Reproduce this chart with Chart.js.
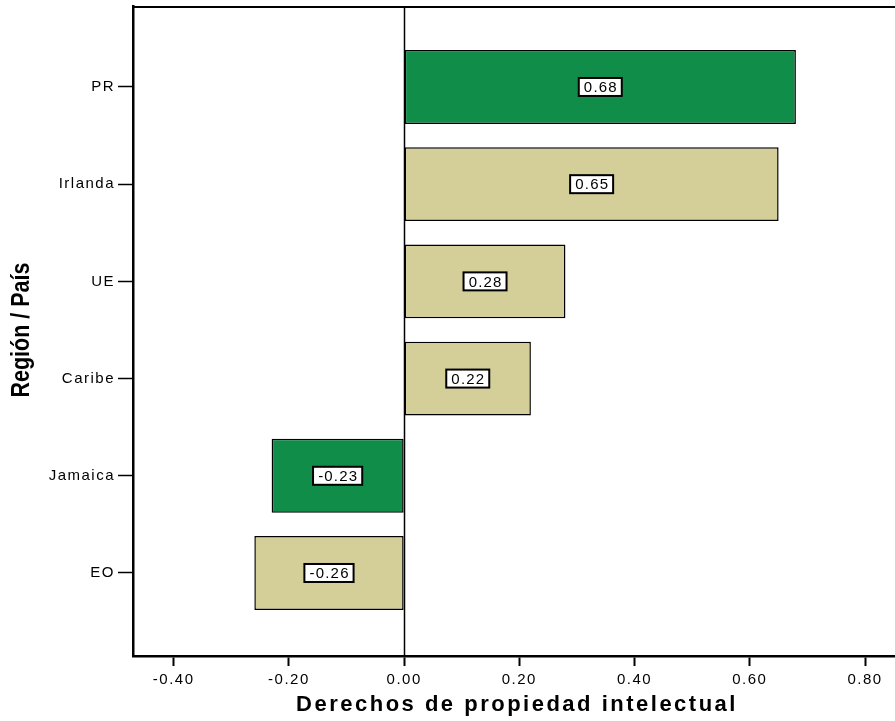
<!DOCTYPE html>
<html>
<head>
<meta charset="utf-8">
<script src="https://cdn.jsdelivr.net/npm/chart.js@4/dist/chart.umd.min.js"></script>
<style>
html,body{margin:0;padding:0;background:#fff;overflow:hidden;}
#wrap{width:895px;height:721px;position:relative;}
</style>
</head>
<body>
<div id="wrap"><canvas id="c" width="895" height="721"></canvas></div>
<script>
const categories = ["PR", "Irlanda", "UE", "Caribe", "Jamaica", "EO"];
const values = [0.68, 0.65, 0.28, 0.22, -0.23, -0.26];
const labels = ["0.68", "0.65", "0.28", "0.22", "-0.23", "-0.26"];
const highlighted = [true, false, false, false, true, false];
const xTicks = [-0.40, -0.20, 0.00, 0.20, 0.40, 0.60, 0.80];
const xTitle = "Derechos de propiedad intelectual";
const yTitle = "Región / País";

const GREEN = "#118D4A";
const TAN = "#D4CF98";

const data = values.map((v, i) => ({ x: v, y: i }));

const spacingPlugin = {
  id: "spacing",
  beforeInit(chart) { chart.ctx.letterSpacing = "1.5px"; },
  beforeDraw(chart) { chart.ctx.letterSpacing = "1.5px"; }
};

const decoPlugin = {
  id: "deco",
  beforeDatasetsDraw(chart) {
    const { ctx, chartArea, scales } = chart;
    const x0 = scales.x.getPixelForValue(0);
    ctx.save();
    ctx.strokeStyle = "#000";
    ctx.lineWidth = 1.5;
    ctx.beginPath();
    ctx.moveTo(Math.round(x0) + 0.5, chartArea.top);
    ctx.lineTo(Math.round(x0) + 0.5, chartArea.bottom);
    ctx.stroke();
    ctx.lineWidth = 2;
    ctx.beginPath();
    ctx.moveTo(chartArea.left, chartArea.top + 1);
    ctx.lineTo(chartArea.right, chartArea.top + 1);
    ctx.stroke();
    ctx.restore();
  },
  afterDatasetsDraw(chart) {
    const { ctx } = chart;
    const meta = chart.getDatasetMeta(0);
    ctx.save();
    ctx.letterSpacing = "1.2px";
    ctx.font = "15px 'Liberation Sans', Arial, sans-serif";
    ctx.textAlign = "center";
    ctx.textBaseline = "middle";
    meta.data.forEach((bar, i) => {
      const cx = (bar.x + bar.base) / 2;
      const cy = bar.y;
      const t = labels[i];
      const w = ctx.measureText(t).width + 9;
      const h = 18;
      ctx.fillStyle = "#fff";
      ctx.fillRect(cx - w / 2, cy - h / 2, w, h);
      ctx.strokeStyle = "#000";
      ctx.lineWidth = 2;
      ctx.strokeRect(cx - w / 2, cy - h / 2, w, h);
      ctx.fillStyle = "#000";
      ctx.fillText(t, cx + 0.6, cy + 1);
    });
    ctx.restore();
  },
  afterDraw(chart) {
    const { ctx } = chart;
    ctx.save();
    ctx.fillStyle = "#000";
    ctx.textAlign = "center";
    ctx.textBaseline = "middle";
    ctx.letterSpacing = "2.5px";
    ctx.font = "bold 22px 'Liberation Sans', Arial, sans-serif";
    ctx.fillText(xTitle, 517, 705);
    ctx.letterSpacing = "0px";
    ctx.translate(22, 330);
    ctx.rotate(-Math.PI / 2);
    ctx.scale(0.86, 1);
    ctx.font = "bold 25px 'Liberation Sans', Arial, sans-serif";
    ctx.fillText(yTitle, 0, 0);
    ctx.restore();
  }
};

new Chart(document.getElementById("c"), {
  type: "bar",
  data: {
    datasets: [{
      data: data,
      backgroundColor: highlighted.map(h => h ? GREEN : TAN),
      borderColor: "#000",
      borderWidth: 1.5,
      borderSkipped: false,
      barPercentage: 0.76,
      categoryPercentage: 1
    }]
  },
  options: {
    indexAxis: "y",
    responsive: false,
    animation: false,
    layout: { padding: { top: 6, left: 0, right: 0, bottom: 0 } },
    plugins: { legend: { display: false }, tooltip: { enabled: false } },
    scales: {
      x: {
        type: "linear",
        min: -0.4706,
        max: 0.852,
        afterBuildTicks(scale) { scale.ticks = xTicks.map(v => ({ value: v })); },
        afterFit(scale) { scale.height = 65; scale.paddingLeft = 0; scale.paddingRight = 0; },
        ticks: {
          callback: v => v.toFixed(2),
          color: "#000",
          font: { family: "'Liberation Sans', Arial, sans-serif", size: 15 },
          padding: 5,
          maxRotation: 0,
          autoSkip: false
        },
        grid: { drawOnChartArea: false, tickLength: 10, tickColor: "#000", tickWidth: 2, color: "#000" },
        border: { display: true, color: "#000", width: 2.5 },
        title: { display: false }
      },
      y: {
        type: "linear",
        reverse: true,
        offset: false,
        min: -0.833,
        max: 5.854,
        afterBuildTicks(scale) { scale.ticks = categories.map((c, i) => ({ value: i })); },
        afterFit(scale) { scale.width = 133; scale.paddingTop = 0; scale.paddingBottom = 0; },
        ticks: {
          callback: v => categories[v],
          color: "#000",
          font: { family: "'Liberation Sans', Arial, sans-serif", size: 15 },
          padding: 3,
          autoSkip: false
        },
        grid: { offset: false, drawOnChartArea: false, tickLength: 15, tickColor: "#000", tickWidth: 1.5, color: "#000" },
        border: { display: true, color: "#000", width: 2.5 },
        title: { display: false }
      }
    }
  },
  plugins: [spacingPlugin, decoPlugin]
});
</script>
</body>
</html>
